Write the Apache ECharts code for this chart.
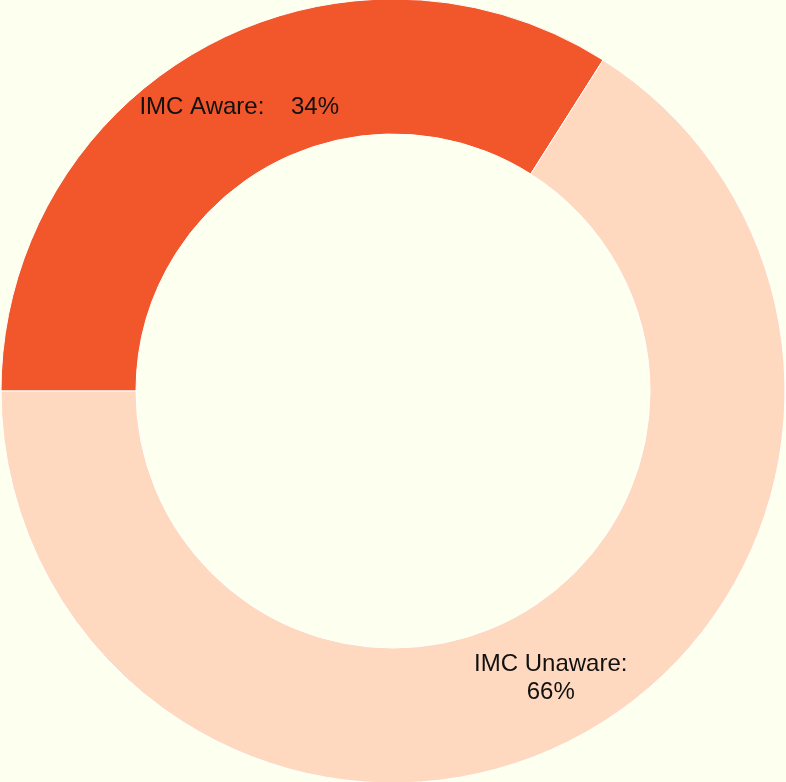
<!DOCTYPE html>
<html>
<head>
<meta charset="utf-8">
<style>
  html, body { margin: 0; padding: 0; background: #fdffef; }
  #chart { width: 786px; height: 782px; }
</style>
<script src="https://cdn.jsdelivr.net/npm/echarts@6/dist/echarts.min.js"></script>
</head>
<body>
<div id="chart"></div>
<script>
// Awareness split shown as a donut
const categories = ['IMC Aware', 'IMC Unaware'];
const values = [34, 66];
const sliceColors = ['#f2562b', '#ffd9bf'];
const labelSeparators = [':    ', ':\n'];
const labelOffsets = [[4, 3], [0, 0]];

const chart = echarts.init(document.getElementById('chart'), null, { renderer: 'canvas' });

chart.setOption({
  backgroundColor: '#fdffef',
  animation: false,
  series: [{
    type: 'pie',
    center: [393, 391],
    radius: [257, 392],
    startAngle: 180,
    clockwise: true,
    avoidLabelOverlap: false,
    itemStyle: { borderColor: '#ffffff', borderWidth: 1 },
    label: {
      show: true,
      position: 'inside',
      color: '#111111',
      fontFamily: 'Liberation Sans',
      fontSize: 24,
      lineHeight: 28,
      align: 'center'
    },
    labelLine: { show: false },
    emphasis: { disabled: true },
    data: categories.map((name, i) => ({
      name: name,
      value: values[i],
      itemStyle: { color: sliceColors[i] },
      label: {
        formatter: '{b}' + labelSeparators[i] + '{d}%',
        fontSize: 24,
        offset: labelOffsets[i]
      }
    }))
  }]
});
</script>
</body>
</html>
